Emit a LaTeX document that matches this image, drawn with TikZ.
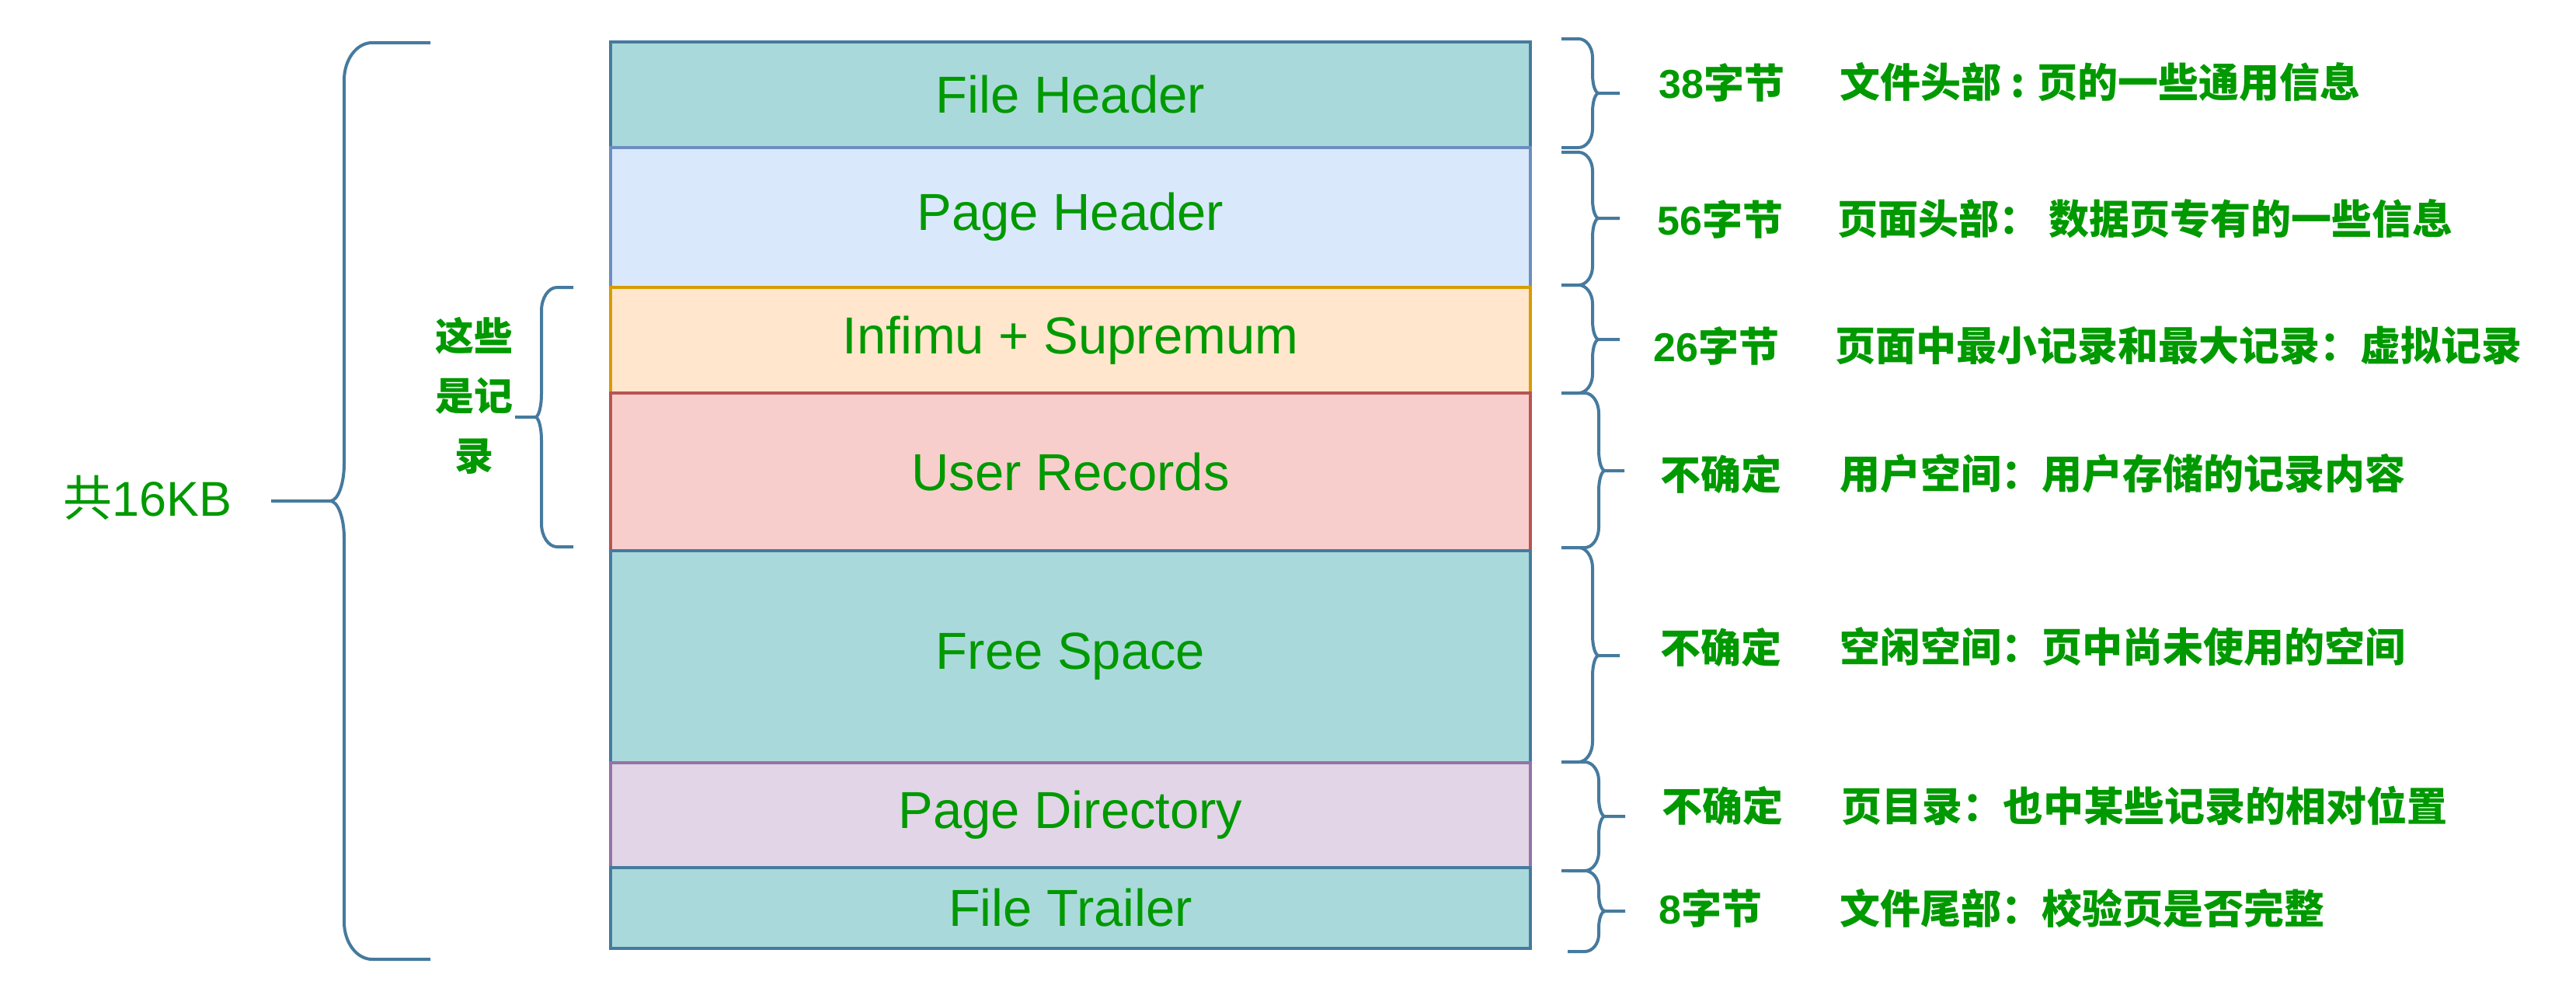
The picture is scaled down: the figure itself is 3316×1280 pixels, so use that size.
\documentclass[tikz,border=0pt]{standalone}
\usepackage{fontspec}
\setmainfont{Liberation Sans}
\newfontfamily\cjk{Noto Sans CJK SC}
\definecolor{fhfill}{HTML}{AAD9DB}
\definecolor{fhdraw}{HTML}{467A9E}
\definecolor{phfill}{HTML}{DAE8FC}
\definecolor{phdraw}{HTML}{6C8EBF}
\definecolor{inffill}{HTML}{FFE6CC}
\definecolor{infdraw}{HTML}{D79B00}
\definecolor{urfill}{HTML}{F8CECC}
\definecolor{urdraw}{HTML}{B85450}
\definecolor{pdfill}{HTML}{E1D5E7}
\definecolor{pddraw}{HTML}{9673A6}
\definecolor{txtgreen}{HTML}{009900}
% brace: xe, xv, xt, y1, ym, y2, rx, ry, tx   (rx, tx signed)
\newcommand{\mybrace}[9]{%
  \draw[bracestyle] (#1,#4) -- ({#2-(#7)},#4)
    .. controls ({#2-0.45*(#7)},#4) and (#2,{#4+0.45*#8}) .. (#2,{#4+#8})
    -- (#2,{#5-#8})
    .. controls (#2,{#5-0.45*#8}) and ({#2+0.45*(#9)},#5) .. ({#2+(#9)},#5) -- (#3,#5);
  \draw[bracestyle] ({#2+(#9)},#5)
    .. controls ({#2+0.45*(#9)},#5) and (#2,{#5+0.45*#8}) .. (#2,{#5+#8})
    -- (#2,{#6-#8})
    .. controls (#2,{#6-0.45*#8}) and ({#2-0.45*(#7)},#6) .. ({#2-(#7)},#6) -- (#1,#6);}
\begin{document}
\begin{tikzpicture}[x=1pt,y=-1pt,
  rowbox/.style={line width=4pt, minimum width=1184pt, inner sep=0pt, outer sep=0pt,
    anchor=north west, text=txtgreen, font=\fontsize{67}{80}\selectfont},
  bracestyle/.style={draw=fhdraw, line width=4pt, line join=round},
  rtxt/.style={anchor=west, inner sep=0pt, text=txtgreen, font=\fontsize{52}{60}\selectfont\bfseries}]
\useasboundingbox (0,0) rectangle (3316,1280);
% rows
\node[rowbox, fill=fhfill, draw=fhdraw, minimum height=135.5pt] (fh) at (786,54) {File Header};
\node[rowbox, fill=phfill, draw=phdraw, minimum height=180pt] (ph) at (786,189.5) {Page Header};
\node[rowbox, fill=inffill, draw=infdraw, minimum height=136.5pt] (inf) at (786,369.5) {Infimu + Supremum};
\node[rowbox, fill=urfill, draw=urdraw, minimum height=203pt] (ur) at (786,506) {User Records};
\node[rowbox, fill=fhfill, draw=fhdraw, minimum height=273pt] (fs) at (786,709) {Free Space};
\node[rowbox, fill=pdfill, draw=pddraw, minimum height=135pt] (pd) at (786,982) {Page Directory};
\node[rowbox, fill=fhfill, draw=fhdraw, minimum height=104pt] (ft) at (786,1117) {File Trailer};
% left braces
\mybrace{554}{443}{349}{55}{645}{1235}{-36}{48}{-18}
\mybrace{738}{697}{663}{370}{537}{704}{-20}{30}{-8}
% right braces
\mybrace{2010}{2050}{2085}{50}{120}{190}{18}{24}{8}
\mybrace{2010}{2050}{2085}{196}{281}{367}{18}{24}{8}
\mybrace{2010}{2050}{2085}{367}{437}{506}{18}{24}{8}
\mybrace{2010}{2058}{2091}{506}{606}{705}{18}{26}{8}
\mybrace{2010}{2050}{2085}{705}{844}{981}{18}{26}{8}
\mybrace{2010}{2058}{2092}{981}{1051}{1121}{18}{24}{8}
\mybrace{2018}{2058}{2092}{1121}{1173}{1225}{18}{22}{8}
% left texts
\node[text=txtgreen, font=\fontsize{63}{70}\selectfont, inner sep=0pt] (total) at (190,641) {{\cjk 共}16KB};
\node[text=txtgreen, align=center, font=\cjk\fontsize{50}{77}\selectfont\bfseries, inner sep=0pt] (rec) at (610,509) {这些\\是记\\录};
% right texts
\node[rtxt] (s1) at (2135,106) {38{\cjk 字节}};
\node[rtxt] (d1) at (2368,106) {\cjk 文件头部 : 页的一些通用信息};
\node[rtxt] (s2) at (2133,282) {56{\cjk 字节}};
\node[rtxt] (d2) at (2365,282) {\cjk 页面头部： 数据页专有的一些信息};
\node[rtxt] (s3) at (2128,445) {26{\cjk 字节}};
\node[rtxt] (d3) at (2362,445) {\cjk 页面中最小记录和最大记录：虚拟记录};
\node[rtxt] (s4) at (2137,610) {\cjk 不确定};
\node[rtxt] (d4) at (2368,610) {\cjk 用户空间：用户存储的记录内容};
\node[rtxt] (s5) at (2137,833) {\cjk 不确定};
\node[rtxt] (d5) at (2368,833) {\cjk 空闲空间：页中尚未使用的空间};
\node[rtxt] (s6) at (2139,1037) {\cjk 不确定};
\node[rtxt] (d6) at (2370,1037) {\cjk 页目录：也中某些记录的相对位置};
\node[rtxt] (s7) at (2135,1169) {8{\cjk 字节}};
\node[rtxt] (d7) at (2368,1169) {\cjk 文件尾部：校验页是否完整};
\end{tikzpicture}
\end{document}
